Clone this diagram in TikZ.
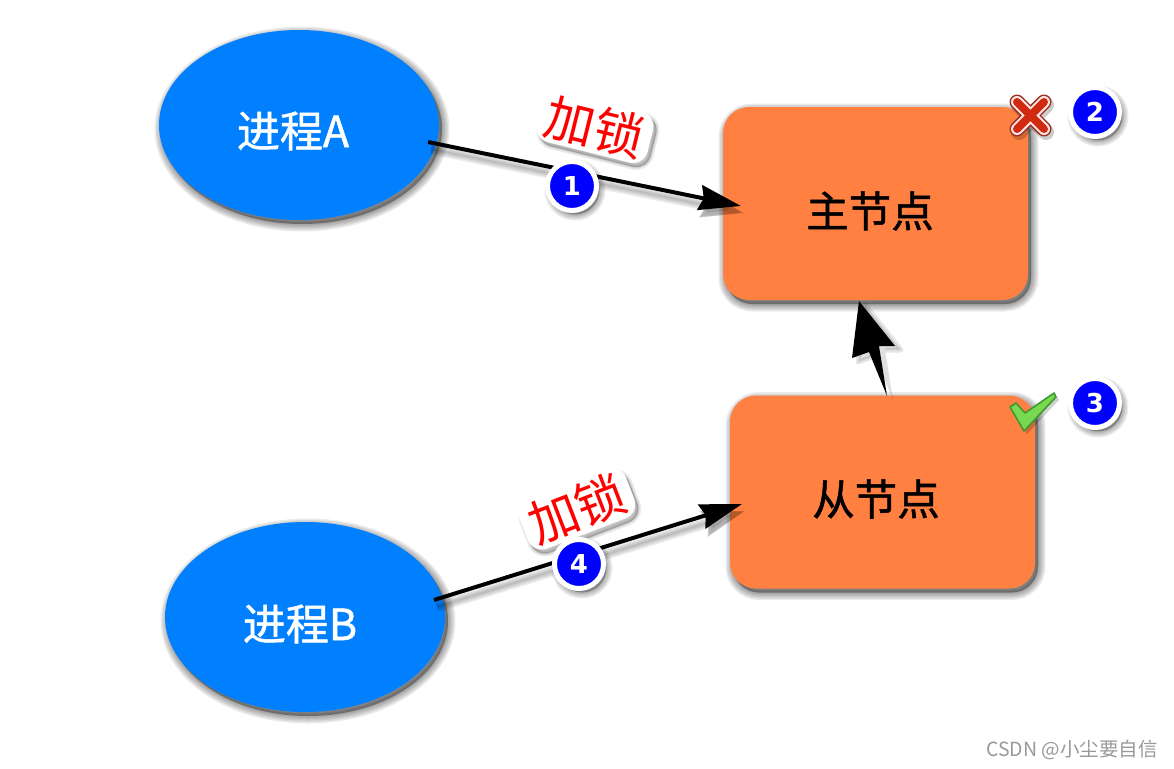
\documentclass[tikz,border=0pt]{standalone}
\usepackage{fontspec}
\setmainfont{Noto Sans CJK SC}
\newfontfamily\numfont{DejaVu Sans}
\newfontfamily\heavyfont[FakeBold=1.2]{Noto Sans CJK SC}
\usetikzlibrary{arrows.meta,calc,shapes.geometric}
\definecolor{procblue}{HTML}{0080FF}
\definecolor{nodeorange}{HTML}{FF8040}
\definecolor{crossred}{HTML}{D02A10}
\definecolor{crossdark}{HTML}{9C2F22}
\definecolor{tickgreen}{HTML}{78D850}
\definecolor{tickdark}{HTML}{3E9A30}
\tikzset{
  layer/.style={preaction={draw=black,fill=black,opacity=.08,line width=#1,transform canvas={shift={(3pt,-4pt)}}}},
  softshadow/.style={layer=15pt,layer=12pt,layer=9pt,layer=6pt,layer=3pt},
  proc/.style={ellipse,fill=procblue,softshadow,minimum width=280pt,minimum height=190pt,inner sep=0pt},
  srv/.style={rectangle,rounded corners=26pt,fill=nodeorange,softshadow,minimum width=305pt,minimum height=193pt,inner sep=0pt},
  connlayer/.style={preaction={draw=black,opacity=.07,line width=#1,transform canvas={shift={(3pt,-7pt)}}}},
  conn/.style={line width=4pt,-{Stealth[length=42pt,width=25pt,inset=4pt]},connlayer=11pt,connlayer=8pt,connlayer=5pt,connlayer=2pt},
  badge/.style={circle,draw=white,line width=5pt,fill=blue,text=white,minimum size=49pt,inner sep=0pt,layer=12pt,layer=9pt,layer=6pt,layer=3pt,font=\numfont\bfseries\fontsize{26}{26}\selectfont},
  lock/.style={text=red,fill=white,rounded corners=15pt,inner xsep=7pt,inner ysep=3pt,layer=6pt,layer=3pt,layer=1pt,font=\fontsize{50}{50}\selectfont},
  proclabel/.style={text=white,font=\heavyfont\fontsize{43}{43}\selectfont},
  srvlabel/.style={font=\heavyfont\fontsize{42.5}{43}\selectfont},
  crossarm/.style={line cap=round},
}
\begin{document}
\begin{tikzpicture}[x=1pt,y=-1pt]
  \useasboundingbox[fill=white] (0,0) rectangle (1174,768);
  \draw
    (299,125) node[proc] (procA){}
    (305,617) node[proc] (procB){}
    (875.5,203.5) node[srv] (master){}
    (882.5,492) node[srv] (slave){};
  \draw
    (293,131) node[proclabel] (procAtext){进程A}
    (300,624) node[proclabel] (procBtext){进程B}
    (870,211) node[srvlabel] (mastertext){主节点}
    (876,499) node[srvlabel] (slavetext){从节点};
  \coordinate (startA) at (428,142);
  \coordinate (endA) at (741,206);
  \coordinate (startB) at (434,600);
  \coordinate (endB) at (742,504);
  \coordinate (tail) at (887,396);
  \coordinate (head) at (859,301);
  \draw[conn] (startA) -- (endA);
  \draw[conn] (startB) -- (endB);
  \begin{scope}[transform canvas={shift={(6pt,-4pt)}}]
    \fill[black,opacity=.12] (tail) -- (879,346) -- (895,346) -- (head) -- (852,358) -- (869,352) -- cycle;
    \draw[black,opacity=.1,line width=5pt,line join=round] (879,346) -- (895,346) -- (head) -- (852,358) -- (869,352);
  \end{scope}
  \fill[black] (tail) -- (879,346) -- (895,346) -- (head) -- (852,358) -- (869,352) -- cycle;
  \draw
    (595,127) node[lock,rotate=-14] (lockA){加锁}
    (577,509) node[lock,rotate=21] (lockB){加锁};
  \draw
    (572,186) node[badge] (one){1}
    (1095,112) node[badge] (two){2}
    (1095,403) node[badge] (three){3}
    (579,564) node[badge] (four){4};
  \begin{scope}[crossarm]
    \draw[black,opacity=.2,line width=16pt,transform canvas={shift={(2pt,-3pt)}}] (1017,102) -- (1044,129) (1044,102) -- (1017,129);
    \draw[crossdark,line width=15pt] (1017,102) -- (1044,129) (1044,102) -- (1017,129);
    \draw[white!90!red,line width=12pt] (1017,102) -- (1044,129) (1044,102) -- (1017,129);
    \draw[crossred,line width=8pt] (1017,102) -- (1044,129) (1044,102) -- (1017,129);
  \end{scope}
  \fill[black,opacity=.18,transform canvas={shift={(3pt,-3pt)}}]
    (1010,407) -- (1016,403) -- (1025,413) -- (1054,393) -- (1056,397) -- (1024,431) -- cycle;
  \filldraw[fill=tickgreen,draw=tickdark,line width=1.6pt,line join=round]
    (1010,407) -- (1016,403) -- (1025,413) -- (1054,393) -- (1056,397) -- (1024,431) -- cycle;
  \draw (1072,750) node[text=black!40,font=\fontsize{19.5}{20}\selectfont] (mark){CSDN @小尘要自信};
\end{tikzpicture}
\end{document}
